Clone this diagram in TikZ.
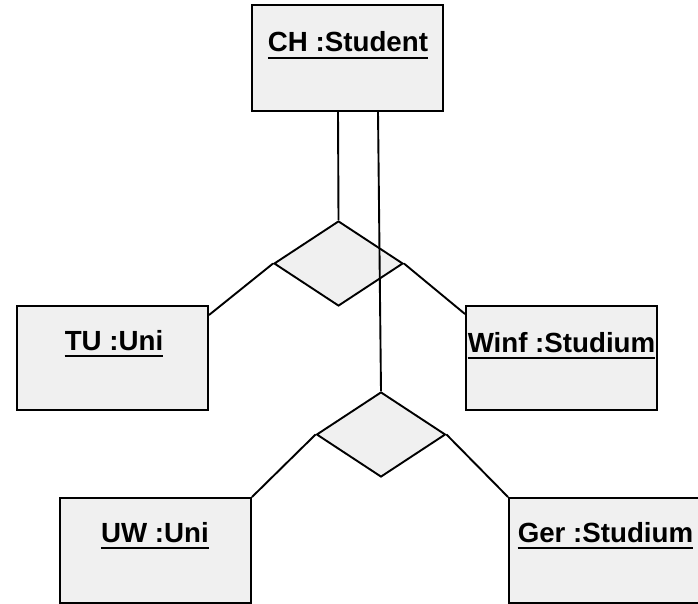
\documentclass[tikz,border=0pt]{standalone}
\usepackage{fontspec}
\setmainfont{Liberation Sans}
\usetikzlibrary{shapes.geometric}
\definecolor{boxfill}{RGB}{240,240,240}
\tikzset{
  objbox/.style={draw=black, fill=boxfill, line width=1.9pt, minimum width=191pt, inner sep=0pt},
  relshape/.style={draw=black, fill=boxfill, line width=1.9pt, diamond, aspect=1.51,
                   minimum width=129pt, minimum height=85pt, inner sep=0pt},
  objlabel/.style={anchor=base, inner sep=0pt, font=\fontsize{27.7}{33}\selectfont\bfseries},
  uline/.style={line width=1.8pt},
  link/.style={line width=1.9pt}
}
\begin{document}
\begin{tikzpicture}[x=1pt, y=-1pt]
\useasboundingbox (0,0) rectangle (698,604);

% object boxes
\node[objbox, minimum height=106pt] (ch)   at (347.5,58)   {};
\node[objbox, minimum height=104pt] (tu)   at (112.5,358)  {};
\node[objbox, minimum height=104pt] (winf) at (561.5,358)  {};
\node[objbox, minimum height=105pt] (uw)   at (155.5,550.5) {};
\node[objbox, minimum height=105pt] (ger)  at (604.5,550.5) {};

% association diamonds
\node[relshape] (d1) at (338.5,263.5) {};
\node[relshape] (d2) at (381,434.5) {};

% object names, underlined
\node[objlabel] (lch)   at (348,52)    {CH :Student};
\node[objlabel] (ltu)   at (114,350)   {TU :Uni};
\node[objlabel] (lwinf) at (561.5,352) {Winf :Studium};
\node[objlabel] (luw)   at (155,542)   {UW :Uni};
\node[objlabel] (lger)  at (605.5,542) {Ger :Studium};
\foreach \l in {lch,ltu,lwinf,luw,lger}
  \draw[uline] ([yshift=-6pt]\l.base west) -- ([yshift=-6pt]\l.base east);

% links
\draw[link] ([xshift=-9.5pt]ch.south) -- (d1.north);
\draw[link] ([xshift=30.5pt]ch.south) -- (d2.north);
\draw[link] (d1.west) -- ([yshift=-10pt]tu.north east);
\draw[link] (d1.east) -- ([yshift=-9pt]winf.north west);
\draw[link] (d2.west) -- (uw.north east);
\draw[link] (d2.east) -- (ger.north west);
\end{tikzpicture}
\end{document}
